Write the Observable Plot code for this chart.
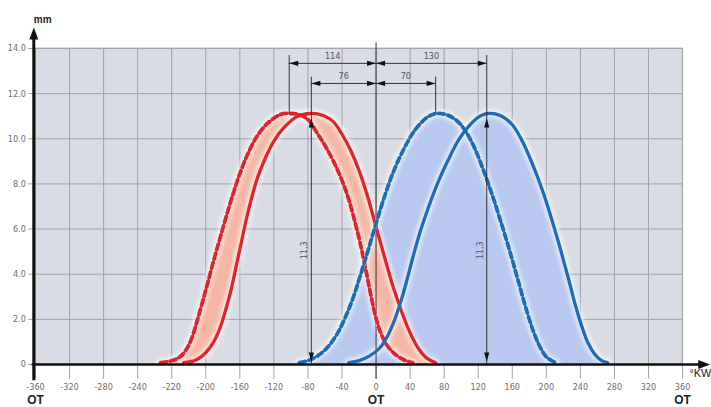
<!DOCTYPE html>
<html><head><meta charset="utf-8">
<script src="https://cdn.jsdelivr.net/npm/d3@7"></script>
<script src="https://cdn.jsdelivr.net/npm/@observablehq/plot@0.6"></script>
<style>
html,body{margin:0;padding:0;background:#fff;}
#chart svg{display:block;}
</style></head><body><div id="chart"></div>
<script>
// ---- tick values and labels (as printed in the reference) ----
const xTickValues = [-400,-360,-320,-280,-240,-200,-160,-120,-80,-40,0,40,80,120,160,200,240,280,320,360];
const xTickLabels = ["-360","-320","-280","-240","-220","-200","-160","-120","-80","-40","0","40","80","120","160","200","240","280","320","360"];
const otTickValues = [-400, 0, 360];
const yTickValues = [0,2,4,6,8,10,12,14];
const yTickLabels = ["0","2.0","4.0","6.0","8.0","10.0","12.0","14.0"];

// ---- valve lift curves (°KW, mm) ----
const redDashedDeg  = [-253,-239,-230,-223,-217,-211,-204,-197,-190,-183,-176,-168,-160,-151,-140,-127,-112,-100,-91,-80,-70,-60,-50,-40,-32,-24,-17,-11,-6,-1,5,12,21,32,43];
const redDashedLift = [0.08,0.18,0.35,0.66,1.11,1.82,2.75,3.72,4.70,5.63,6.55,7.55,8.45,9.30,10.10,10.70,11.08,11.12,11.08,10.85,10.30,9.70,9.00,8.15,7.30,6.20,5.10,4.00,3.05,2.20,1.45,0.90,0.50,0.22,0.08];

const redSolidDeg  = [-226,-215,-205,-195,-188,-182,-176,-170,-164,-158,-152,-146,-139,-130,-120,-108,-93,-77,-62,-50,-40,-30,-20,-10,0,10,20,30,40,50,60,70];
const redSolidLift = [0.08,0.15,0.35,0.75,1.20,1.75,2.50,3.35,4.40,5.45,6.50,7.40,8.30,9.15,9.90,10.50,10.98,11.12,11.03,10.75,10.20,9.50,8.60,7.45,6.10,4.75,3.45,2.35,1.40,0.70,0.27,0.08];

const blueDashedDeg  = [-90,-78,-66,-55,-45,-36,-27,-18,-9,0,10,20,32,46,60,71,83,94,104,115,126,137,148,158,167,176,185,193,201,211];
const blueDashedLift = [0.08,0.20,0.45,0.85,1.40,2.10,2.95,4.00,5.10,6.25,7.45,8.50,9.50,10.40,10.95,11.12,11.06,10.83,10.40,9.65,8.62,7.45,6.15,4.90,3.70,2.50,1.45,0.75,0.30,0.08];

const blueSolidDeg  = [-32,-20,-8,4,14,22,30,37,44,52,61,72,84,97,110,122,131,146,160,172,184,196,207,217,226,234,242,249,257,265,272];
const blueSolidLift = [0.08,0.17,0.37,0.72,1.30,2.00,2.90,3.85,4.85,5.90,6.90,8.00,9.00,9.95,10.60,11.00,11.12,11.03,10.62,9.88,8.85,7.65,6.35,5.05,3.80,2.65,1.65,0.95,0.45,0.17,0.08];

// ---- dimension annotations ----
const dimFrom   = [-102, 0, -76, 0];
const dimTo     = [0, 130, 0, 70];
const dimLevel  = [13.34, 13.34, 12.45, 12.45];
const dimLabel  = ["114", "130", "76", "70"];
const extX      = [-102, 130, -76, 70];
const extTop    = [13.69, 13.69, 12.73, 12.73];
const extBottom = [11.12, 0, 0, 11.12];
const liftDimX     = [-76, 130];
const liftDimValue = [11.12, 11.12];
const liftDimLabel = ["11,3", "11,3"];

// ---- build tables ----
const rows = (deg, lift) => deg.map((d, i) => ({deg: d, lift: lift[i]}));
const rd = rows(redDashedDeg, redDashedLift);
const rs = rows(redSolidDeg, redSolidLift);
const bd = rows(blueDashedDeg, blueDashedLift);
const bs = rows(blueSolidDeg, blueSolidLift);
const redBand = rd.concat(rs.slice().reverse());
const hDims = dimFrom.map((f, i) => ({from: f, to: dimTo[i], level: dimLevel[i], label: dimLabel[i], mid: (f + dimTo[i]) / 2}));
const exts = extX.map((x, i) => ({x, top: extTop[i], bottom: extBottom[i]}));
const liftDims = liftDimX.map((x, i) => ({x, v: liftDimValue[i], label: liftDimLabel[i]}));
const xTicks = xTickValues.map((v, i) => ({v, label: xTickLabels[i]}));
const yTicks = yTickValues.map((v, i) => ({v, label: yTickLabels[i]}));

const RED = "#e1242b", BLUE = "#1d6cb6", RED_FILL = "#f3b7a3", BLUE_FILL = "#b8c8ee";
const PANEL = "#d9dce4", GRID = "#a0a2aa", TICKTXT = "#6e6e6e";
const HALO = "#fffffe";

const arrowHead = {draw(ctx) { ctx.moveTo(0, 0); ctx.lineTo(2.6, 9); ctx.lineTo(-2.6, 9); ctx.closePath(); }};
const axisHead  = {draw(ctx) { ctx.moveTo(0, 0); ctx.lineTo(4.5, 12); ctx.lineTo(-4.5, 12); ctx.closePath(); }};

const xMin = -402, xMax = 394, yMax = 15;
const curve = "catmull-rom";
const halo = (data) => Plot.line(data, {x: "deg", y: "lift", stroke: HALO, strokeWidth: 8, strokeOpacity: 0.7, curve});

const plot = Plot.plot({
  width: 711, height: 407,
  marginLeft: 33.3, marginRight: 0, marginTop: 25.4, marginBottom: 43,
  x: {domain: [xMin, xMax], axis: null},
  y: {domain: [0, yMax], axis: null},
  style: {fontFamily: "'Liberation Sans Narrow','DejaVu Sans Condensed','Liberation Sans',sans-serif", fontSize: "9px", background: "#fff"},
  marks: [
    // panel
    Plot.rect([0], {x1: xTickValues[0], x2: xTickValues[xTickValues.length - 1], y1: yTickValues[0], y2: yTickValues[yTickValues.length - 1], fill: PANEL, stroke: "#c2c4ca"}),
    // grid
    Plot.ruleX(xTickValues, {y1: -0.65, y2: yTickValues[yTickValues.length - 1], stroke: GRID, strokeWidth: 1}),
    Plot.ruleY(yTickValues, {x1: -408, x2: xTickValues[xTickValues.length - 1], stroke: GRID, strokeWidth: 1}),
    // blue fill (envelope of both blue curves)
    Plot.areaY(bd, {x: "deg", y: "lift", fill: BLUE_FILL, curve}),
    Plot.areaY(bs, {x: "deg", y: "lift", fill: BLUE_FILL, curve}),
    // red band between the two red curves
    Plot.line(redBand, {x: "deg", y: "lift", fill: RED_FILL, stroke: "none", curve}),
    // soft halos
    halo(rd), halo(rs), halo(bd), halo(bs),
    // OT reference line
    Plot.ruleX([0], {y1: -0.65, y2: 14.25, stroke: "#333", strokeWidth: 1}),
    // curves
    Plot.line(rd, {x: "deg", y: "lift", stroke: "#ffffff", strokeWidth: 3.6, curve}),
    Plot.line(rd, {x: "deg", y: "lift", stroke: RED, strokeWidth: 3.8, strokeDasharray: "6,3.6", curve}),
    Plot.line(rs, {x: "deg", y: "lift", stroke: RED, strokeWidth: 3.3, curve}),
    Plot.line(bd, {x: "deg", y: "lift", stroke: "#ffffff", strokeWidth: 3.6, curve}),
    Plot.line(bd, {x: "deg", y: "lift", stroke: BLUE, strokeWidth: 3.8, strokeDasharray: "6,3.6", curve}),
    Plot.line(bs, {x: "deg", y: "lift", stroke: BLUE, strokeWidth: 3.3, curve}),
    // dimension lines
    Plot.ruleX(exts, {x: "x", y1: "bottom", y2: "top", stroke: "#222", strokeWidth: 0.9}),
    Plot.ruleY(hDims, {y: "level", x1: "from", x2: "to", stroke: "#222", strokeWidth: 0.9}),
    Plot.dot(hDims, {x: "from", y: "level", symbol: arrowHead, rotate: -90, fill: "#111", stroke: "none"}),
    Plot.dot(hDims, {x: "to", y: "level", symbol: arrowHead, rotate: 90, fill: "#111", stroke: "none"}),
    Plot.text(hDims, {x: "mid", y: "level", text: "label", dy: -7, fill: "#555", fontSize: 9}),
    Plot.dot(liftDims, {x: "x", y: "v", dy: 5, symbol: arrowHead, rotate: 0, fill: "#111", stroke: "none"}),
    Plot.dot(liftDims, {x: "x", y: 0, dy: -3, symbol: arrowHead, rotate: 180, fill: "#111", stroke: "none"}),
    Plot.text(liftDims, {x: "x", y: (d) => d.v * 0.455, text: "label", rotate: -90, dx: -7, fill: "#555", fontSize: 9}),
    // axes
    Plot.ruleY([0], {x1: xMin - 2, x2: xMax - 6, stroke: "#111", strokeWidth: 2.6}),
    Plot.ruleX([xMin], {y1: -0.72, y2: yMax - 0.6, stroke: "#111", strokeWidth: 3}),
    Plot.dot([0], {x: xMax - 1.5, y: 0, symbol: axisHead, rotate: 90, fill: "#111", stroke: "none"}),
    Plot.dot([0], {x: xMin, y: yMax - 0.07, symbol: axisHead, rotate: 0, fill: "#111", stroke: "none"}),
    // tick labels
    Plot.text(xTicks, {x: "v", y: 0, text: "label", dy: 23, fill: TICKTXT, fontSize: 9}),
    Plot.text(yTicks, {x: xMin, y: "v", text: "label", dx: -8, textAnchor: "end", fill: TICKTXT, fontSize: 9}),
    Plot.text(otTickValues, {x: (d) => d, y: 0, text: () => "OT", dy: 36, fill: "#222", fontSize: 12, fontWeight: "bold", fontFamily: "'Liberation Sans','DejaVu Sans',sans-serif"}),
    Plot.text(["°KW"], {frameAnchor: "bottom-right", textAnchor: "end", dy: 12, fill: "#222", fontSize: 11, fontFamily: "'Liberation Sans','DejaVu Sans',sans-serif"}),
    Plot.text(["mm"], {frameAnchor: "top-left", dy: -10, fill: "#222", fontSize: 10, fontWeight: "bold", fontFamily: "'Liberation Sans','DejaVu Sans',sans-serif"})
  ]
});

// soft glow for the halo strokes
const defs = document.createElementNS("http://www.w3.org/2000/svg", "defs");
defs.innerHTML = '<filter id="glow" x="-20%" y="-20%" width="140%" height="140%"><feGaussianBlur stdDeviation="2"/></filter>';
plot.insertBefore(defs, plot.firstChild);
plot.querySelectorAll('g[stroke="' + HALO + '"]').forEach((g) => g.setAttribute("filter", "url(#glow)"));

document.getElementById("chart").appendChild(plot);
</script>
</body></html>
